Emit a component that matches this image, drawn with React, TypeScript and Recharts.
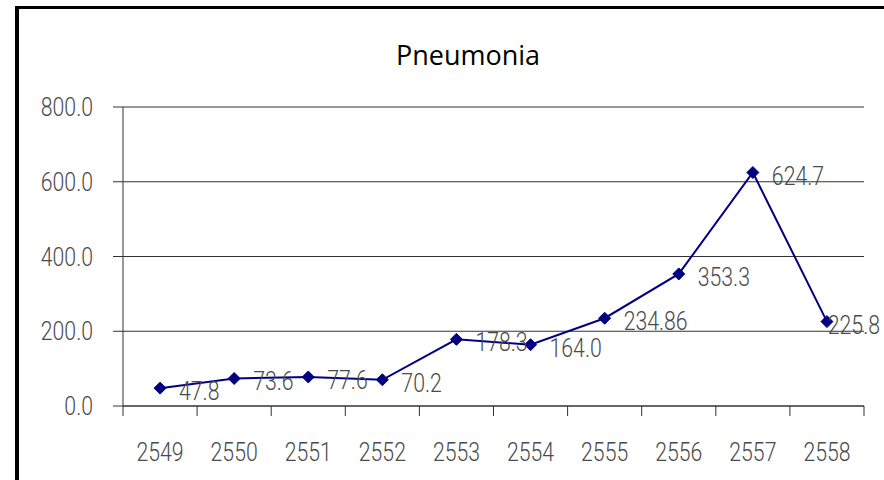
import React from 'react';
import { LineChart, Line, XAxis, YAxis, CartesianGrid } from 'recharts';

const years = ['2549', '2550', '2551', '2552', '2553', '2554', '2555', '2556', '2557', '2558'];
const rates = [47.8, 73.6, 77.6, 70.2, 178.3, 164.0, 234.86, 353.3, 624.7, 225.8];
const rateLabels = ['47.8', '73.6', '77.6', '70.2', '178.3', '164.0', '234.86', '353.3', '624.7', '225.8'];
const yTicks = [0, 200, 400, 600, 800];

const W = 884;
const H = 480;
const NAVY = '#000080';
const INK = '#4a4a4a';
const GRID = '#333333';
const FONT = 'Roboto, "DejaVu Sans", sans-serif';
const NARROW = 0.85; // the original uses a condensed face

const data = years.map((y, i) => ({ pos: i + 0.5, year: y, value: rates[i], label: rateLabels[i] }));
const boundaryTicks = years.map((_, i) => i).concat(years.length);
const centerTicks = data.map(d => d.pos);

const NarrowText = ({ x, y, anchor, dy, children }: any) => (
  <g transform={`translate(${x},${y})`}>
    <text
      transform={`scale(${NARROW},1)`}
      textAnchor={anchor}
      dy={dy}
      fontFamily={FONT}
      fontWeight={300}
      fontSize={25}
      fill={INK}
    >
      {children}
    </text>
  </g>
);

const YTick = (props: any) => {
  const { x, y, payload } = props;
  return <NarrowText x={x} y={y} anchor="end" dy="0.36em">{Number(payload.value).toFixed(1)}</NarrowText>;
};

const XTick = (props: any) => {
  const { x, y, payload } = props;
  return <NarrowText x={x} y={y} anchor="middle" dy="0.71em">{years[Math.round(payload.value - 0.5)]}</NarrowText>;
};

const Diamond = (props: any) => {
  const { cx, cy, index } = props;
  if (cx == null || cy == null) return <g key={`d-${index}`} />;
  const r = 6;
  return (
    <polygon
      key={`d-${index}`}
      points={`${cx},${cy - r} ${cx + r},${cy} ${cx},${cy + r} ${cx - r},${cy}`}
      fill={NAVY}
      stroke={NAVY}
    />
  );
};

const PointLabel = (props: any) => {
  const { x, y, index } = props;
  const text = rateLabels[index];
  // push the last label back inside the picture, like the original does
  const overflow = x + 19 + text.length * 10 > W;
  return (
    <g key={`l-${index}`}>
      <NarrowText x={overflow ? W - 4 : x + 19} y={y + 12} anchor={overflow ? 'end' : 'start'}>
        {text}
      </NarrowText>
    </g>
  );
};

export default function App() {
  return (
    <div style={{ position: 'absolute', left: 0, top: 0, width: W, height: H, background: '#fff' }}>
      <LineChart
        width={W}
        height={H}
        data={data}
        margin={{ top: 107, right: 20, left: 0, bottom: 0 }}
      >
        <CartesianGrid xAxisId="a" vertical={false} stroke={GRID} strokeWidth={1} />
        <XAxis
          xAxisId="a"
          dataKey="pos"
          type="number"
          domain={[0, years.length]}
          ticks={boundaryTicks}
          interval={0}
          height={1}
          tickSize={10}
          tickFormatter={() => ''}
          axisLine={{ stroke: GRID }}
          tickLine={{ stroke: GRID }}
        />
        <XAxis
          xAxisId="b"
          dataKey="pos"
          type="number"
          domain={[0, years.length]}
          ticks={centerTicks}
          interval={0}
          height={73}
          tickSize={0}
          tickMargin={36}
          axisLine={false}
          tickLine={false}
          tick={XTick}
        />
        <YAxis
          width={123}
          domain={[0, 800]}
          ticks={yTicks}
          interval={0}
          tickSize={10}
          tickMargin={20}
          axisLine={{ stroke: GRID }}
          tickLine={{ stroke: GRID }}
          tick={YTick}
        />
        <Line
          xAxisId="a"
          type="linear"
          dataKey="value"
          stroke={NAVY}
          strokeWidth={2}
          dot={Diamond}
          activeDot={false}
          label={PointLabel}
          isAnimationActive={false}
        />
      </LineChart>
      <svg
        width={W}
        height={H}
        style={{ position: 'absolute', left: 0, top: 0, pointerEvents: 'none' }}
      >
        <line x1={15} y1={7.5} x2={W} y2={7.5} stroke="#000" strokeWidth={3} />
        <line x1={17} y1={6} x2={17} y2={H} stroke="#000" strokeWidth={4} />
        <text x={468} y={65} textAnchor="middle" fontFamily='"Open Sans", sans-serif' fontSize={27} fill="#000">
          Pneumonia
        </text>
      </svg>
    </div>
  );
}
